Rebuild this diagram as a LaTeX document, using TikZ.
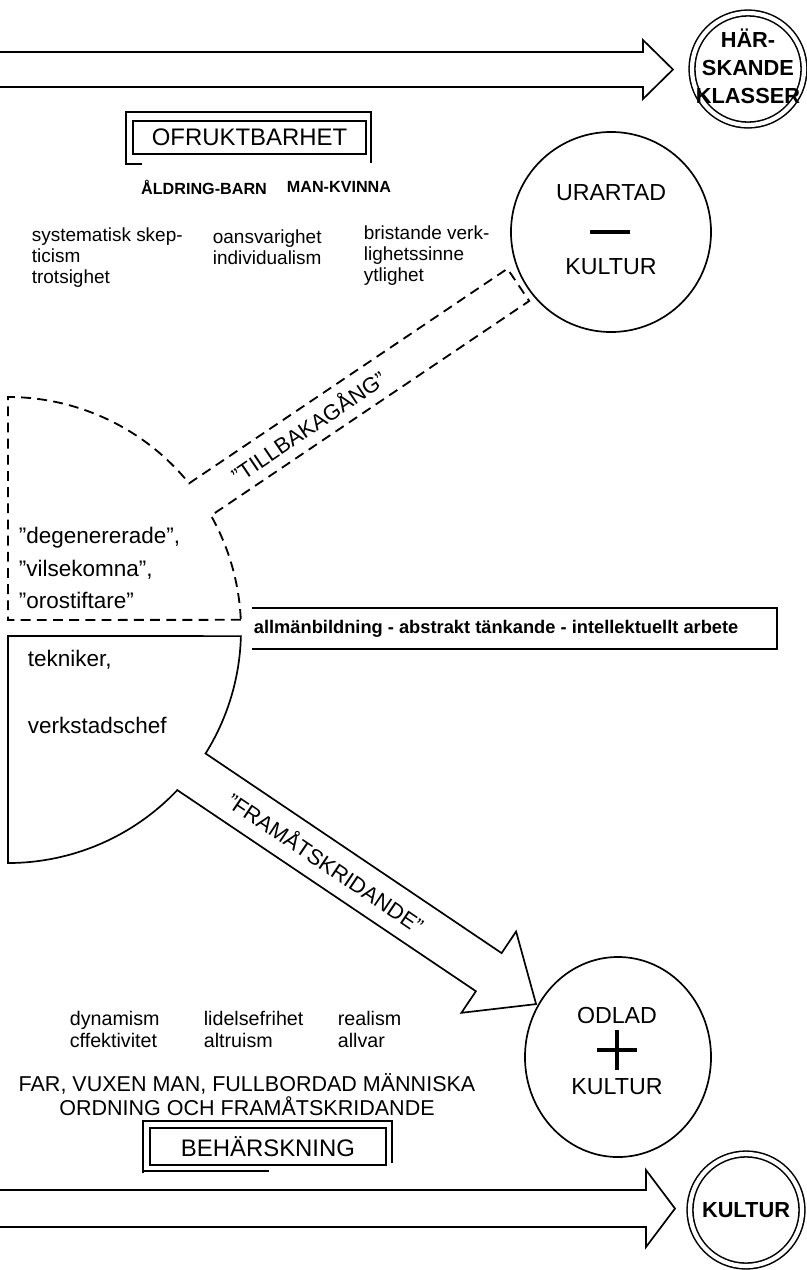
\documentclass[tikz,border=0pt]{standalone}
\usepackage{fontspec}
\setmainfont{Liberation Sans}
\usetikzlibrary{shapes.geometric}

\tikzset{
  every node/.style={inner sep=0pt},
  outline/.style={line width=1.2pt, line join=miter},
  dashedline/.style={line width=1.3pt, dash pattern=on 7pt off 4.5pt},
  dcircle/.style={circle, draw, double, double distance=3pt, line width=1.1pt, minimum size=2.8cm},
  bigcircle/.style={circle, draw, line width=1.2pt, minimum size=5cm},
  dctext/.style={font=\bfseries\fontsize{15.5}{19.8}\selectfont, align=center},
  circletext/.style={font=\fontsize{16.5}{19}\selectfont},
  boxtext/.style={font=\fontsize{17}{20}\selectfont},
  captext/.style={font=\bfseries\fontsize{11.5}{13}\selectfont},
  smalltext/.style={font=\fontsize{13.5}{14.9}\selectfont, align=left, anchor=west},
  lowtext/.style={font=\fontsize{14}{15.6}\selectfont, align=left, anchor=west},
  quotetext/.style={font=\fontsize{16}{23.4}\selectfont, align=left, anchor=west},
  bandtext/.style={font=\fontsize{15.5}{18}\selectfont},
}

\begin{document}
\begin{tikzpicture}[x=0.025cm, y=-0.025cm, outline]
  \useasboundingbox (0,0) rectangle (807,1270);
  %
  % upper double arrow
  \draw (0,52) -- (643,52) -- (643,40) -- (673,69.5) -- (643,99) -- (643,87) -- (0,87);
  \node[dcircle] (klasser) at (748,69) {};
  \node[dctext] (klassertext) at (748,66) {HÄR-\\SKANDE\\KLASSER};
  %
  % OFRUKTBARHET
  \node[boxtext, draw, minimum width=5.825cm, minimum height=0.825cm] (ofrukt) at (249.5,137.5) {OFRUKTBARHET};
  \draw ([shift={(-6,10)}]ofrukt.south west) -- ([shift={(-6,-8)}]ofrukt.north west)
     -- ([shift={(4,-8)}]ofrukt.north east) -- ([shift={(4,8)}]ofrukt.south east);
  \draw ([shift={(-6,9)}]ofrukt.south west) -- ([shift={(10,9)}]ofrukt.south west);
  \node[captext] (aldring) at (204,187) {ÅLDRING-BARN};
  \node[captext] (mankvinna) at (339,187) {MAN-KVINNA};
  %
  \node[smalltext] (skepticism) at (31,258) {systematisk skep-\\ticism\\trotsighet};
  \node[smalltext] (oansvar) at (212,247) {oansvarighet\\individualism};
  \node[smalltext] (bristande) at (363,256) {bristande verk-\\lighetssinne\\ytlighet};
  %
  % URARTAD KULTUR
  \node[bigcircle] (urartad) at (611,232) {};
  \node[circletext] (urartadtext) at (611,193) {URARTAD};
  \draw[line width=3.5pt] (590,232) -- (630,232);
  \node[circletext] (urkultur) at (611,267) {KULTUR};
  %
  % upper half of the disk, dashed, with the band
  \draw[dashedline] (240.8,619.8) -- (8,620) -- (8,397)
     arc[start angle=-90, end angle=-39, radius=233] -- (507.4,268.7) -- (529.2,301.0)
     -- (211.0,515.6) arc[start angle=-29.4, end angle=-2.5, radius=233];
  \node[bandtext, rotate=34] (tillbaka) at (308,426) {”TILLBAKAGÅNG”};
  \node[quotetext] (degen) at (18,568) {”degenererade”,\\”vilsekomna”,\\”orostiftare”};
  %
  % lower half of the disk with the arrow
  \draw (8,636) -- (240.9,636.1) arc[start angle=1.5, end angle=32, radius=233]
     -- (501.6,953.1) -- (516.1,931.5) -- (536.1,1004.1) -- (461.4,1012.8) -- (475.9,991.2)
     -- (177.3,790.1) arc[start angle=43.4, end angle=90, radius=233] -- cycle;
  \node[quotetext] (tekniker) at (27,660) {tekniker,};
  \node[quotetext] (verkstad) at (27,725) {verkstadschef};
  \node[bandtext, rotate=-34] (framat) at (326,862) {”FRAMÅTSKRIDANDE”};
  %
  \node[font=\bfseries\fontsize{13}{15}\selectfont, anchor=west] (allman) at (253,629)
     {allmänbildning - abstrakt tänkande - intellektuellt arbete};
  \draw (252,608) -- (777,608) -- (777,649) -- (252,649);
  %
  % ODLAD KULTUR
  \node[draw, ellipse, minimum width=4.65cm, minimum height=5cm] (odlad) at (618,1057) {};
  \node[circletext] (odladtext) at (617,1015) {ODLAD};
  \draw[line width=3.5pt] (597,1050) -- (637,1050) (617,1030) -- (617,1070);
  \node[circletext] (odkultur) at (617,1087) {KULTUR};
  %
  \node[lowtext] (dynamism) at (69,1029) {dynamism\\cffektivitet};
  \node[lowtext] (lidelse) at (203,1029) {lidelsefrihet\\altruism};
  \node[lowtext] (realism) at (337,1029) {realism\\allvar};
  \node[font=\fontsize{15.3}{17}\selectfont, align=center] (far) at (247,1095)
     {FAR, VUXEN MAN, FULLBORDAD MÄNNISKA\\ORDNING OCH FRAMÅTSKRIDANDE};
  %
  % BEHÄRSKNING
  \node[boxtext, draw, minimum width=5.9cm, minimum height=0.925cm] (behersk) at (268,1146.5) {BEHÄRSKNING};
  \draw ([shift={(-6,7)}]behersk.south west) -- ([shift={(-6,-6)}]behersk.north west)
     -- ([shift={(5,-6)}]behersk.north east) -- ([shift={(5,-3)}]behersk.south east);
  \draw ([shift={(-6,5)}]behersk.south west) -- ([shift={(120,5)}]behersk.south west);
  %
  % lower double arrow
  \draw (0,1190) -- (646,1190) -- (646,1170) -- (675,1208.5) -- (646,1247) -- (646,1227) -- (0,1227);
  \node[dcircle] (kultur) at (746,1210) {};
  \node[dctext] (kulturtext) at (746,1210) {KULTUR};
\end{tikzpicture}
\end{document}
